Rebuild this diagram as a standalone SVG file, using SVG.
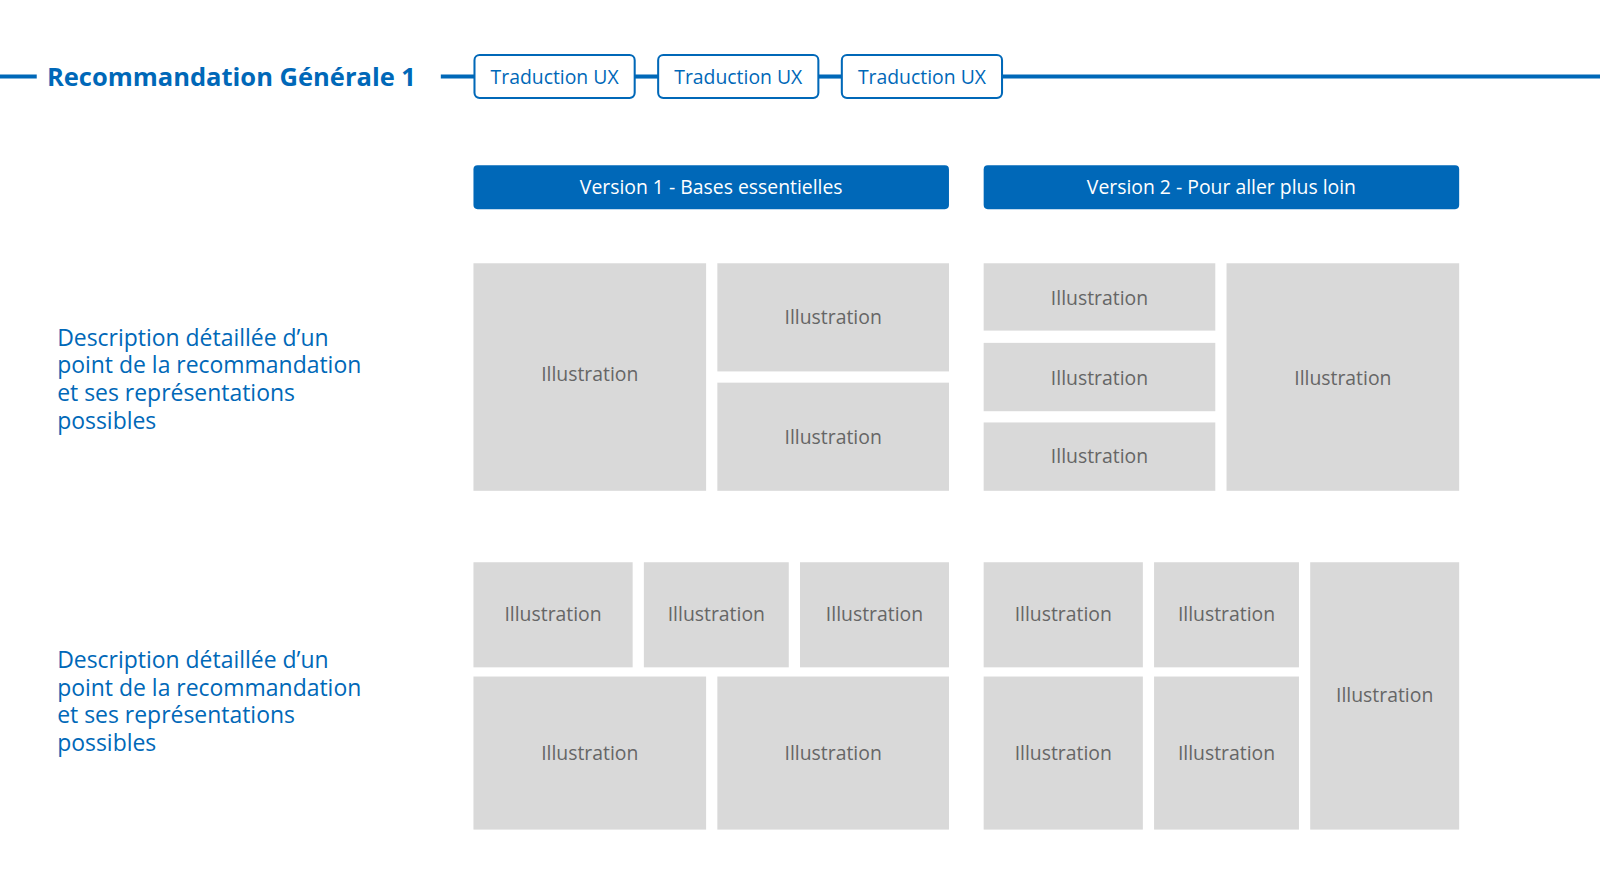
<svg xmlns="http://www.w3.org/2000/svg" width="1600" height="890" viewBox="0 0 1600 890">
<style>
.ln{stroke:#0068b8;stroke-width:4;fill:none}
.tag{fill:#fff;stroke:#0068b8;stroke-width:2}
.tagt{font-family:"Open Sans",sans-serif;font-size:19px;fill:#0068b8;text-anchor:middle}
.bar{fill:#0068b8}
.bart{font-family:"Open Sans",sans-serif;font-size:19px;fill:#fff;text-anchor:middle}
.il{fill:#d9d9d9}
.ilt{font-family:"Open Sans",sans-serif;font-size:19px;fill:#666;text-anchor:middle}
.desc{font-family:"Open Sans",sans-serif;font-size:22.5px;fill:#0068b8}
</style>
<rect width="1600" height="890" fill="#fff"/>
<g transform="scale(1.0204)">
<g id="connectors">
<line class="ln" x1="0" y1="75" x2="36" y2="75"/>
<line class="ln" x1="432" y1="75" x2="465" y2="75"/>
<line class="ln" x1="622" y1="75" x2="645" y2="75"/>
<line class="ln" x1="802" y1="75" x2="825" y2="75"/>
<line class="ln" x1="982" y1="75" x2="1570" y2="75"/>
</g>
<g id="title"><text x="46" y="84" font-family="Open Sans,sans-serif" font-size="25" font-weight="bold" fill="#0068b8">Recommandation Générale 1</text></g>
<g id="tag1"><rect class="tag" x="465" y="54" width="157" height="42" rx="5"/><text class="tagt" x="543.5" y="82">Traduction UX</text></g>
<g id="tag2"><rect class="tag" x="645" y="54" width="157" height="42" rx="5"/><text class="tagt" x="723.5" y="82">Traduction UX</text></g>
<g id="tag3"><rect class="tag" x="825" y="54" width="157" height="42" rx="5"/><text class="tagt" x="903.5" y="82">Traduction UX</text></g>
<g id="v1"><rect class="bar" x="464" y="162" width="466" height="43" rx="4"/><text class="bart" x="697" y="190">Version 1 - Bases essentielles</text></g>
<g id="v2"><rect class="bar" x="964" y="162" width="466" height="43" rx="4"/><text class="bart" x="1197" y="190">Version 2 - Pour aller plus loin</text></g>
<g id="desc1"><text class="desc" x="56" y="339">Description détaillée d’un</text><text class="desc" x="56" y="366">point de la recommandation</text><text class="desc" x="56" y="393">et ses représentations</text><text class="desc" x="56" y="420">possibles</text></g>
<g id="desc2"><text class="desc" x="56" y="655">Description détaillée d’un</text><text class="desc" x="56" y="682">point de la recommandation</text><text class="desc" x="56" y="709">et ses représentations</text><text class="desc" x="56" y="736">possibles</text></g>
<g id="i1"><rect class="il" x="464" y="258" width="228" height="223"/><text class="ilt" x="578" y="373">Illustration</text></g>
<g id="i2"><rect class="il" x="703" y="258" width="227" height="106"/><text class="ilt" x="816.5" y="318">Illustration</text></g>
<g id="i3"><rect class="il" x="703" y="375" width="227" height="106"/><text class="ilt" x="816.5" y="435">Illustration</text></g>
<g id="i4"><rect class="il" x="964" y="258" width="227" height="66"/><text class="ilt" x="1077.5" y="299">Illustration</text></g>
<g id="i5"><rect class="il" x="964" y="336" width="227" height="67"/><text class="ilt" x="1077.5" y="377">Illustration</text></g>
<g id="i6"><rect class="il" x="964" y="414" width="227" height="67"/><text class="ilt" x="1077.5" y="454">Illustration</text></g>
<g id="i7"><rect class="il" x="1202" y="258" width="228" height="223"/><text class="ilt" x="1316" y="377">Illustration</text></g>
<g id="i8"><rect class="il" x="464" y="551" width="156" height="103"/><text class="ilt" x="542" y="609">Illustration</text></g>
<g id="i9"><rect class="il" x="631" y="551" width="142" height="103"/><text class="ilt" x="702" y="609">Illustration</text></g>
<g id="i10"><rect class="il" x="784" y="551" width="146" height="103"/><text class="ilt" x="857" y="609">Illustration</text></g>
<g id="i11"><rect class="il" x="464" y="663" width="228" height="150"/><text class="ilt" x="578" y="745">Illustration</text></g>
<g id="i12"><rect class="il" x="703" y="663" width="227" height="150"/><text class="ilt" x="816.5" y="745">Illustration</text></g>
<g id="i13"><rect class="il" x="964" y="551" width="156" height="103"/><text class="ilt" x="1042" y="609">Illustration</text></g>
<g id="i14"><rect class="il" x="1131" y="551" width="142" height="103"/><text class="ilt" x="1202" y="609">Illustration</text></g>
<g id="i15"><rect class="il" x="1284" y="551" width="146" height="262"/><text class="ilt" x="1357" y="688">Illustration</text></g>
<g id="i16"><rect class="il" x="964" y="663" width="156" height="150"/><text class="ilt" x="1042" y="745">Illustration</text></g>
<g id="i17"><rect class="il" x="1131" y="663" width="142" height="150"/><text class="ilt" x="1202" y="745">Illustration</text></g>
</g>
</svg>
